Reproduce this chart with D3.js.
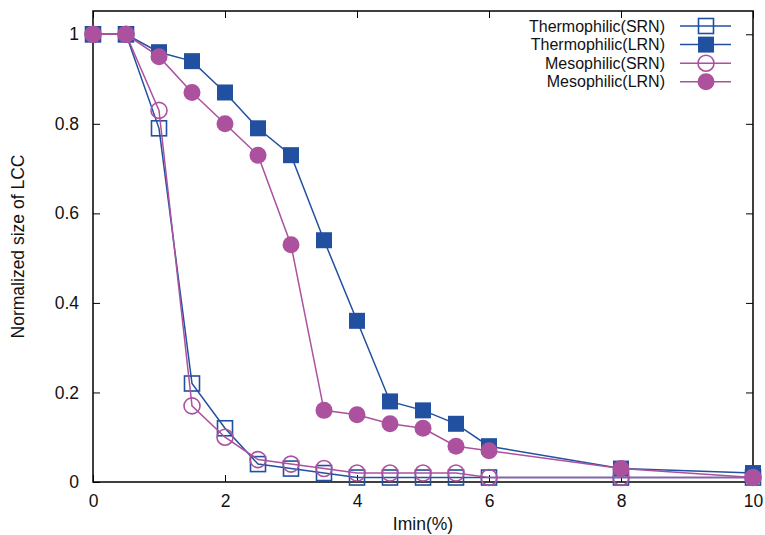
<!DOCTYPE html>
<html>
<head>
<meta charset="utf-8">
<script src="https://cdn.jsdelivr.net/npm/d3@7"></script>
<style>
  body { margin: 0; background: white; }
  text { font-family: "Liberation Sans", Arial, sans-serif; }
</style>
</head>
<body>
<script>
const width = 765;
const height = 535;
const margin = {top: 11, right: 12, bottom: 53, left: 93};

// data
const imin = [0, 0.5, 1, 1.5, 2, 2.5, 3, 3.5, 4, 4.5, 5, 5.5, 6, 8, 10];
const thermoSRN = [1, 1, 0.79, 0.22, 0.12, 0.04, 0.03, 0.02, 0.01, 0.01, 0.01, 0.01, 0.01, 0.01, 0.01];
const thermoLRN = [1, 1, 0.96, 0.94, 0.87, 0.79, 0.73, 0.54, 0.36, 0.18, 0.16, 0.13, 0.08, 0.03, 0.02];
const mesoSRN = [1, 1, 0.83, 0.17, 0.10, 0.05, 0.04, 0.03, 0.02, 0.02, 0.02, 0.02, 0.01, 0.01, 0.01];
const mesoLRN = [1, 1, 0.95, 0.87, 0.80, 0.73, 0.53, 0.16, 0.15, 0.13, 0.12, 0.08, 0.07, 0.03, 0.01];
const xTicks = [0, 2, 4, 6, 8, 10];
const yTicks = [0, 0.2, 0.4, 0.6, 0.8, 1];

const blue = "#2150a0";
const purple = "#ac519d";
const fontSize = 17.5;
const legendFont = 16;

const series = [
    {name: "Thermophilic(SRN)", values: thermoSRN, color: blue, shape: "square", filled: false},
    {name: "Thermophilic(LRN)", values: thermoLRN, color: blue, shape: "square", filled: true},
    {name: "Mesophilic(SRN)", values: mesoSRN, color: purple, shape: "circle", filled: false},
    {name: "Mesophilic(LRN)", values: mesoLRN, color: purple, shape: "circle", filled: true}
];

let svg = d3.select("body").append("svg")
    .attr("width", width)
    .attr("height", height);

let xScale = d3.scaleLinear().domain([0, 10])
    .range([margin.left, width - margin.right]);
let yScale = d3.scaleLinear().domain([0, 1.052])
    .range([height - margin.bottom, margin.top]);

// axes with ticks pointing inward, mirrored on top/right
let xAxis = svg.append("g")
    .attr("transform", `translate(0, ${height - margin.bottom})`)
    .call(d3.axisBottom(xScale).tickValues(xTicks).tickSizeInner(-7).tickSizeOuter(0).tickPadding(13).tickFormat(d3.format("")));
let xTop = svg.append("g")
    .attr("transform", `translate(0, ${margin.top})`)
    .call(d3.axisTop(xScale).tickValues(xTicks).tickSizeInner(-7).tickSizeOuter(0).tickFormat(""));
let yAxis = svg.append("g")
    .attr("transform", `translate(${margin.left}, 0)`)
    .call(d3.axisLeft(yScale).tickValues(yTicks).tickSizeInner(-7).tickSizeOuter(0).tickPadding(14).tickFormat(d3.format("")));
let yRight = svg.append("g")
    .attr("transform", `translate(${width - margin.right}, 0)`)
    .call(d3.axisRight(yScale).tickValues(yTicks).tickSizeInner(-7).tickSizeOuter(0).tickFormat(""));

[xAxis, xTop, yAxis, yRight].forEach(a => {
    a.select(".domain").remove();
    a.selectAll(".tick line").attr("stroke", "#000").attr("stroke-width", 1);
    a.selectAll(".tick text")
        .attr("fill", "#111")
        .attr("font-size", fontSize)
        .attr("font-family", "Liberation Sans, Arial, sans-serif");
});

// frame
svg.append("rect")
    .attr("x", margin.left)
    .attr("y", margin.top)
    .attr("width", width - margin.left - margin.right)
    .attr("height", height - margin.top - margin.bottom)
    .attr("fill", "none")
    .attr("stroke", "#000")
    .attr("stroke-width", 1.5);

// axis labels
svg.append("text")
    .attr("text-anchor", "middle")
    .attr("x", 423)
    .attr("y", 530)
    .attr("font-size", fontSize)
    .attr("fill", "#111")
    .text("Imin(%)");

svg.append("text")
    .attr("text-anchor", "middle")
    .attr("transform", `translate(24, ${(margin.top + height - margin.bottom) / 2}) rotate(-90)`)
    .attr("font-size", fontSize)
    .attr("fill", "#111")
    .text("Normalized size of LCC");

let line = d3.line()
    .x((d, i) => xScale(imin[i]))
    .y(d => yScale(d));

function drawMarker(g, s, cx, cy) {
    if (s.shape === "square") {
        const size = s.filled ? 16 : 15;
        g.append("rect")
            .attr("x", cx - size / 2)
            .attr("y", cy - size / 2)
            .attr("width", size)
            .attr("height", size)
            .attr("fill", s.filled ? s.color : "none")
            .attr("stroke", s.color)
            .attr("stroke-width", s.filled ? 0 : 1.6);
    } else {
        g.append("circle")
            .attr("cx", cx)
            .attr("cy", cy)
            .attr("r", s.filled ? 8.5 : 8)
            .attr("fill", s.filled ? s.color : "none")
            .attr("stroke", s.color)
            .attr("stroke-width", s.filled ? 0 : 1.6);
    }
}

series.forEach(s => {
    let g = svg.append("g");
    g.append("path")
        .datum(s.values)
        .attr("fill", "none")
        .attr("stroke", s.color)
        .attr("stroke-width", 1.5)
        .attr("d", line);
    s.values.forEach((v, i) => drawMarker(g, s, xScale(imin[i]), yScale(v)));
});

// legend
let legend = svg.append("g");
series.forEach((s, i) => {
    const ly = 26 + i * 18.6;
    legend.append("text")
        .attr("x", 665)
        .attr("y", ly)
        .attr("dy", "0.35em")
        .attr("text-anchor", "end")
        .attr("font-size", legendFont)
        .attr("fill", "#111")
        .text(s.name);
    legend.append("line")
        .attr("x1", 680).attr("x2", 731)
        .attr("y1", ly).attr("y2", ly)
        .attr("stroke", s.color)
        .attr("stroke-width", 1.5);
    drawMarker(legend, s, 706, ly);
});
</script>
</body>
</html>
